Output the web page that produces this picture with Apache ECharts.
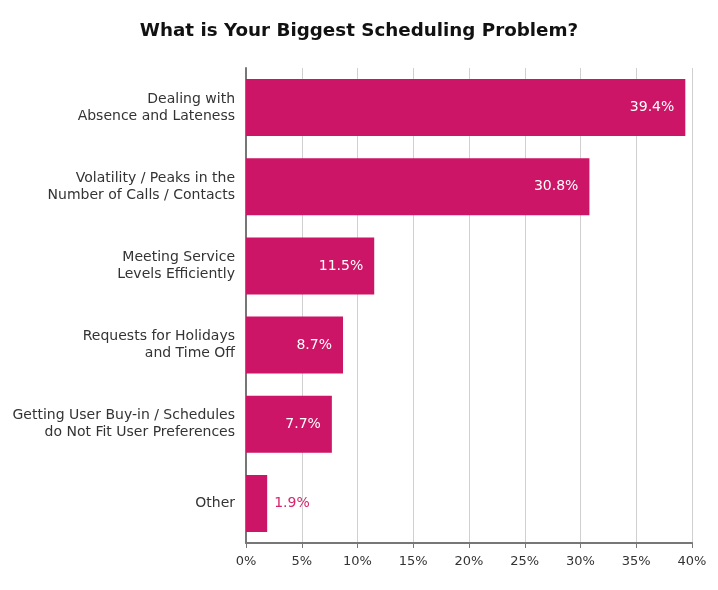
<!DOCTYPE html>
<html><head><meta charset="utf-8">
<script src="https://cdn.jsdelivr.net/npm/echarts@6/dist/echarts.min.js"></script>
<style>html,body{margin:0;padding:0;background:#fff}#c{width:718px;height:590px}</style>
</head><body><div id="c"></div>
<script>
const categories = [
  "Dealing with\nAbsence and Lateness",
  "Volatility / Peaks in the\nNumber of Calls / Contacts",
  "Meeting Service\nLevels Efficiently",
  "Requests for Holidays\nand Time Off",
  "Getting User Buy-in / Schedules\ndo Not Fit User Preferences",
  "Other"
];
const values = [39.4, 30.8, 11.5, 8.7, 7.7, 1.9];
const insideThreshold = 5;
const FONT = "DejaVu Sans";
const chart = echarts.init(document.getElementById('c'));
chart.setOption({
  animation: false,
  title: {
    text: "What is Your Biggest Scheduling Problem?",
    left: 'center', top: 17,
    textStyle: {fontFamily: FONT, fontWeight: 'bold', fontSize: 18.3, color: '#111'}
  },
  grid: {left: 246, right: 26, top: 68, bottom: 47},
  xAxis: {
    type: 'value', min: 0, max: 40, interval: 5,
    axisLine: {show: true, lineStyle: {color: '#777', width: 2}},
    axisTick: {show: true, length: 5, lineStyle: {color: '#777'}},
    splitLine: {show: true, lineStyle: {color: '#d0d0d0', width: 1}},
    axisLabel: {formatter: '{value}%', fontFamily: FONT, fontSize: 13, color: '#333', margin: 12}
  },
  yAxis: {
    type: 'category', data: categories, inverse: true,
    axisLine: {show: true, lineStyle: {color: '#777', width: 2}},
    axisTick: {show: false},
    axisLabel: {fontFamily: FONT, fontSize: 14, color: '#333', margin: 11, lineHeight: 17, align: 'right'}
  },
  series: [{
    type: 'bar',
    barCategoryGap: '28%',
    itemStyle: {color: '#CC1566'},
    data: values.map(v => ({
      value: v,
      label: v > insideThreshold
        ? {show: true, position: 'insideRight', color: '#fff', distance: 11}
        : {show: true, position: 'right', color: '#D6246E', distance: 7}
    })),
    label: {show: true, formatter: p => p.value + '%', fontFamily: FONT, fontSize: 14}
  }]
});
</script></body></html>
